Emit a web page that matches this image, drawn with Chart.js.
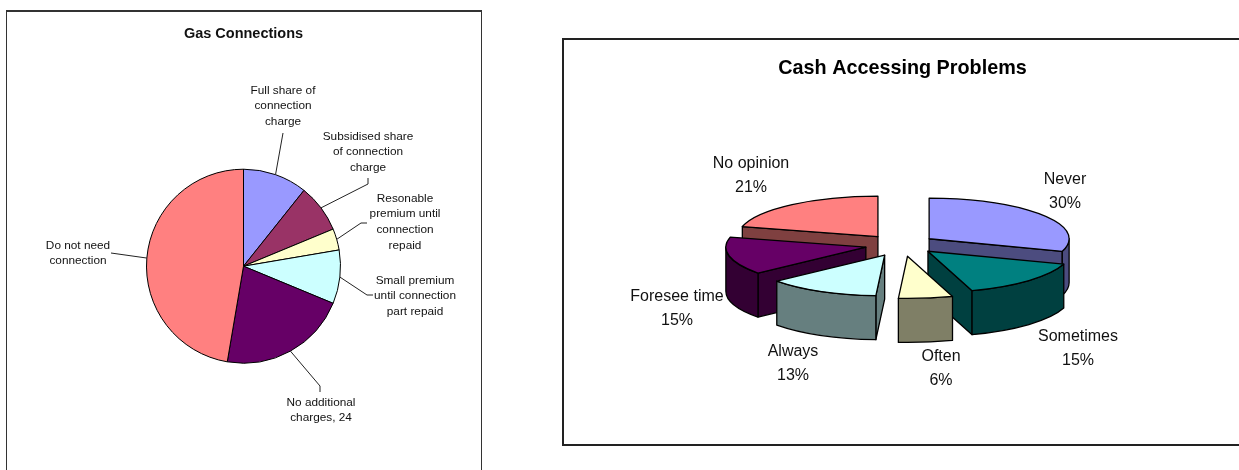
<!DOCTYPE html>
<html>
<head>
<meta charset="utf-8">
<title>Gas Connections and Cash Accessing Problems</title>
<script src="https://cdn.jsdelivr.net/npm/chart.js@4"></script>
<style>
  html, body { margin: 0; padding: 0; background: #fff; overflow: hidden; }
  body { position: relative; width: 1239px; height: 470px; }
  canvas { position: absolute; top: 0; }
  #gasChart { left: 0; }
  #cashChart { left: 566px; }
  .frame { position: absolute; box-sizing: border-box; }
  #gasFrame { left: 6px; top: 10px; width: 476px; height: 460px; border: solid #333; border-width: 2px 1px 0 1px; }
  #cashFrame { left: 562px; top: 38px; width: 677px; height: 408px; border: solid #222; border-width: 2px 0 2px 2px; }
</style>
</head>
<body>
<div class="frame" id="gasFrame"></div>
<div class="frame" id="cashFrame"></div>
<canvas id="gasChart" width="487" height="470"></canvas>
<canvas id="cashChart" width="673" height="470"></canvas>
<script>
// Gas Connections data
const gasCategories = ["Full share of connection charge", "Subsidised share of connection charge", "Resonable premium until connection repaid", "Small premium until connection part repaid", "No additional charges", "Do not need connection"];
const gasValues = [12, 9, 4, 10, 24, 53];

// Cash Accessing Problems data
const cashCategories = ["Never", "Sometimes", "Often", "Always", "Foresee time", "No opinion"];
const cashValues = [30, 15, 6, 13, 15, 21];

// colours
const gasColors = ["#9999FF", "#993366", "#FFFFCC", "#CCFFFF", "#660066", "#FF8080"];
const cashColors = ["#9999FF", "#008080", "#FFFFCC", "#CCFFFF", "#660066", "#FF8080"];

const fontName = "'Liberation Sans', Arial, sans-serif";

// how the gas labels wrap, and where they sit (centre x, y of first line, then leader bend points)
const gasLabelLines = [
  ["Full share of", "connection", "charge"],
  ["Subsidised share", "of connection", "charge"],
  ["Resonable", "premium until", "connection", "repaid"],
  ["Small premium", "until connection", "part repaid"],
  ["No additional", "charges, " + gasValues[4]],
  ["Do not need", "connection"]
];
const gasLabelSpots = [
  { x: 283, y: 90.5, bends: [[283, 133]] },
  { x: 368, y: 136.5, bends: [[368, 184], [368, 178]] },
  { x: 405, y: 198.5, bends: [[361, 223], [367, 223]] },
  { x: 415, y: 280.5, bends: [[367, 295], [373, 295]] },
  { x: 321, y: 402.5, bends: [[320, 386], [320, 392]] },
  { x: 78, y: 245.5, bends: [[111, 253]] }
];

// cash labels: centre x and y of first line, in page pixels
const cashLabelSpots = [
  { x: 1065, y: 180 },
  { x: 1078, y: 337 },
  { x: 941, y: 357 },
  { x: 793, y: 352 },
  { x: 677, y: 297 },
  { x: 751, y: 164 }
];
const cashCanvasLeft = 566;

// 3d look of the cash pie
const tilt = 0.29;
const thickness = 44;
const explode = 36;
const centerShift = -2.5; // pie sits a bit left of the title
const paintOrder = [5, 0, 4, 1, 3, 2]; // back slices first
// front slices look a little bigger and further out, per slice
const sliceNudge = [[0, 0], [2.5, -1], [3, 1], [1, 1], [1, 0], [0, 0]];
const sliceGrow = [1, 1.02, 1.04, 1, 1, 1];

function darker(hex) {
  let n = parseInt(hex.slice(1), 16);
  return "rgb(" + ((n >> 16) >> 1) + "," + (((n >> 8) & 255) >> 1) + "," + ((n & 255) >> 1) + ")";
}

// labels and leader lines of the flat pie
const gasCallouts = {
  id: "gasCallouts",
  afterDatasetsDraw(chart) {
    let ctx = chart.ctx;
    let arcs = chart.getDatasetMeta(0).data;
    ctx.save();
    ctx.strokeStyle = "#222";
    ctx.lineWidth = 1;
    arcs.forEach(function (arc, i) {
      let mid = (arc.startAngle + arc.endAngle) / 2;
      ctx.beginPath();
      ctx.moveTo(arc.x + Math.cos(mid) * arc.outerRadius, arc.y + Math.sin(mid) * arc.outerRadius);
      gasLabelSpots[i].bends.forEach(function (p) { ctx.lineTo(p[0], p[1]); });
      ctx.stroke();
    });
    ctx.fillStyle = "#111";
    ctx.font = "11.8px " + fontName;
    ctx.textAlign = "center";
    ctx.textBaseline = "middle";
    gasLabelLines.forEach(function (lines, i) {
      lines.forEach(function (line, j) {
        ctx.fillText(line, gasLabelSpots[i].x, gasLabelSpots[i].y + j * 15.6);
      });
    });
    ctx.restore();
  }
};

// draws the slices squashed, with side walls, instead of the normal flat draw
const tiltedPie = {
  id: "tiltedPie",
  beforeDatasetsDraw(chart) {
    let ctx = chart.ctx;
    let arcs = chart.getDatasetMeta(0).data;
    ctx.save();
    ctx.strokeStyle = "#000";
    ctx.lineWidth = 1.3;
    ctx.lineJoin = "round";
    paintOrder.forEach(function (i) {
      let arc = arcs[i];
      let a0 = arc.startAngle, a1 = arc.endAngle;
      let mid = (a0 + a1) / 2;
      let grow = sliceGrow[i];
      let rx = arc.outerRadius * grow, ry = rx * tilt;
      let ox = arc.x + centerShift + sliceNudge[i][0] + Math.cos(mid) * explode;
      let oy = arc.y + sliceNudge[i][1] + Math.sin(mid) * explode * tilt;
      ctx.fillStyle = darker(cashColors[i]);

      function radialWall(a) {
        let ex = ox + Math.cos(a) * rx, ey = oy + Math.sin(a) * ry;
        ctx.beginPath();
        ctx.moveTo(ox, oy);
        ctx.lineTo(ex, ey);
        ctx.lineTo(ex, ey + thickness);
        ctx.lineTo(ox, oy + thickness);
        ctx.closePath();
        ctx.fill();
        ctx.stroke();
      }
      if (Math.cos(a0) < -1e-6) radialWall(a0);
      if (Math.cos(a1) > 1e-6) radialWall(a1);

      let v0 = Math.max(a0, 0), v1 = Math.min(a1, Math.PI);
      if (v1 > v0) {
        ctx.beginPath();
        ctx.ellipse(ox, oy, rx, ry, 0, v0, v1);
        ctx.ellipse(ox, oy + thickness, rx, ry, 0, v1, v0, true);
        ctx.closePath();
        ctx.fill();
        ctx.stroke();
      }

      // top face comes from the library's own arc, squashed
      ctx.save();
      ctx.translate(ox, oy);
      ctx.scale(grow, tilt * grow);
      ctx.translate(-arc.x, -arc.y);
      arc.draw(ctx);
      ctx.restore();

      ctx.beginPath();
      ctx.moveTo(ox, oy);
      ctx.ellipse(ox, oy, rx, ry, 0, a0, a1);
      ctx.closePath();
      ctx.stroke();
    });
    ctx.restore();
    return false;
  },
  afterDraw(chart) {
    let ctx = chart.ctx;
    ctx.save();
    ctx.fillStyle = "#111";
    ctx.font = "16px " + fontName;
    ctx.textAlign = "center";
    ctx.textBaseline = "middle";
    cashCategories.forEach(function (name, i) {
      let spot = cashLabelSpots[i];
      ctx.fillText(name, spot.x - cashCanvasLeft, spot.y);
      ctx.fillText(cashValues[i] + "%", spot.x - cashCanvasLeft, spot.y + 23.5);
    });
    ctx.restore();
  }
};

new Chart(document.getElementById("gasChart"), {
  type: "pie",
  data: {
    labels: gasCategories,
    datasets: [{
      data: gasValues,
      backgroundColor: gasColors,
      borderColor: "#000",
      borderWidth: 1
    }]
  },
  options: {
    responsive: false,
    animation: false,
    radius: 97,
    plugins: {
      legend: { display: false },
      tooltip: { enabled: false },
      title: {
        display: true,
        text: "Gas Connections",
        color: "#111",
        font: { family: fontName, size: 14.5, weight: "bold", lineHeight: 1.2 },
        padding: { top: 25, bottom: 20 }
      }
    }
  },
  plugins: [gasCallouts]
});

new Chart(document.getElementById("cashChart"), {
  type: "pie",
  data: {
    labels: cashCategories,
    datasets: [{
      data: cashValues,
      backgroundColor: cashColors,
      borderWidth: 0
    }]
  },
  options: {
    responsive: false,
    animation: false,
    radius: 140,
    layout: { padding: { bottom: 61 } },
    plugins: {
      legend: { display: false },
      tooltip: { enabled: false },
      title: {
        display: true,
        text: "Cash Accessing Problems",
        color: "#000",
        font: { family: fontName, size: 19.8, weight: "bold", lineHeight: 1.2 },
        padding: { top: 57, bottom: 0 }
      }
    }
  },
  plugins: [tiltedPie]
});
</script>
</body>
</html>
